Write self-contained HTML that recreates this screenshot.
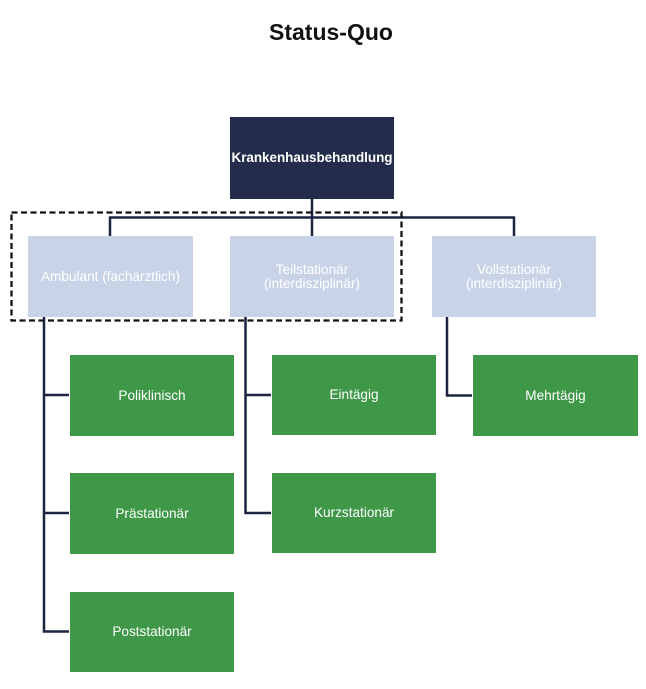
<!DOCTYPE html>
<html>
<head>
<meta charset="utf-8">
<style>
  html, body { margin:0; padding:0; background:#fff; }
  body { width:646px; height:689px; position:relative; overflow:hidden;
         font-family:"Liberation Sans", Arial, sans-serif; }
  .title { position:absolute; left:0; width:662px; top:17px; text-align:center;
           font-size:23px; font-weight:bold; color:#111; line-height:30px; }
  .box { position:absolute; display:flex; align-items:center; justify-content:center;
         text-align:center; color:#fff; font-size:13.6px; line-height:14px; box-sizing:border-box; }
  .root { background:#232c4a; font-weight:bold; font-size:13.5px; letter-spacing:-0.05px; }
  .lb { background:#c9d3e8; color:#fff; }
  .gr { background:#3f9748; }
  svg { position:absolute; left:0; top:0; }
</style>
</head>
<body>
<div class="title">Status-Quo</div>

<svg width="646" height="689" viewBox="0 0 646 689">
  <g stroke="#1c2440" stroke-width="2.5" fill="none">
    <line x1="312" y1="199" x2="312" y2="236"/>
    <polyline points="110,236 110,217.5 514,217.5 514,236"/>
    <polyline points="44,317 44,631.5 69,631.5"/>
    <line x1="44" y1="395" x2="69" y2="395"/>
    <line x1="44" y1="513" x2="69" y2="513"/>
    <polyline points="245.5,317 245.5,513 271,513"/>
    <line x1="245.5" y1="395" x2="271" y2="395"/>
    <polyline points="447,317 447,395.5 472,395.5"/>
  </g>
  <rect x="11.5" y="212.5" width="390" height="108" fill="none" stroke="#111" stroke-width="2.3" stroke-dasharray="6 3.5"/>
</svg>

<div class="box root" style="left:230px;top:117px;width:164px;height:82px;">Krankenhausbehandlung</div>

<div class="box lb" style="left:28px;top:236px;width:165px;height:81px;">Ambulant (fachärztlich)</div>
<div class="box lb" style="left:230px;top:236px;width:164px;height:81px;">Teilstationär<br>(interdisziplinär)</div>
<div class="box lb" style="left:432px;top:236px;width:164px;height:81px;">Vollstationär<br>(interdisziplinär)</div>

<div class="box gr" style="left:70px;top:355px;width:164px;height:81px;">Poliklinisch</div>
<div class="box gr" style="left:70px;top:473px;width:164px;height:81px;">Prästationär</div>
<div class="box gr" style="left:70px;top:592px;width:164px;height:80px;">Poststationär</div>

<div class="box gr" style="left:272px;top:355px;width:164px;height:80px;">Eintägig</div>
<div class="box gr" style="left:272px;top:473px;width:164px;height:80px;">Kurzstationär</div>

<div class="box gr" style="left:473px;top:355px;width:165px;height:81px;">Mehrtägig</div>
</body>
</html>
